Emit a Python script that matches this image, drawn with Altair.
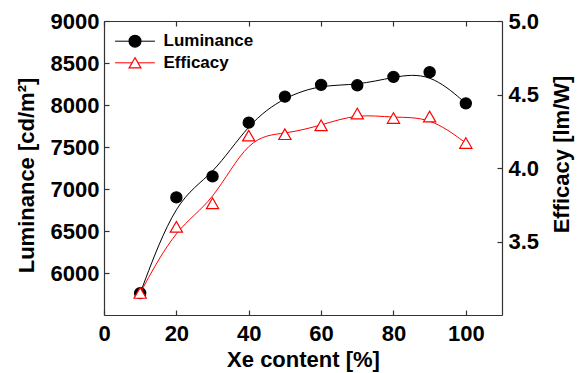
import altair as alt
import pandas as pd

# ---- data ----
xe = [10, 20, 30, 40, 50, 60, 70, 80, 90, 100]
luminance = [5760, 6900, 7150, 7790, 8100, 8240, 8235, 8335, 8390, 8020]
efficacy = [3.15, 3.60, 3.76, 4.22, 4.23, 4.29, 4.37, 4.34, 4.35, 4.17]

series_names = ["Luminance", "Efficacy"]
series_colors = ["#000000", "#ff0000"]
series_shapes = ["circle", "triangle-up"]
series_fills = ["#000000", "#ffffff"]

x_ticks = [0, 20, 40, 60, 80, 100]
lum_ticks = [6000, 6500, 7000, 7500, 8000, 8500, 9000]
eff_ticks = [3.5, 4.0, 4.5, 5.0]

df_lum = pd.DataFrame({"xe": xe, "value": luminance, "series": "Luminance", "curve": "Luminance"})
df_eff = pd.DataFrame({"xe": xe, "value": efficacy, "series": "Efficacy", "curve": "Efficacy"})

FONT = "Liberation Sans"
AX = "#333333"
FS = 22

x_scale = alt.Scale(domain=[0, 110], nice=False, zero=False)
lum_scale = alt.Scale(domain=[5500, 9000], nice=False, zero=False)
eff_scale = alt.Scale(domain=[3.0, 5.0], nice=False, zero=False)


def label_axis(orient, values, fmt, pad, **kw):
    return alt.Axis(orient=orient, values=values, format=fmt, ticks=False, tickSize=0,
                    domain=True, domainColor=AX, domainWidth=1.2, labels=True,
                    labelFont=FONT, labelFontSize=FS, labelFontWeight="bold",
                    labelColor="black", labelPadding=pad, grid=False,
                    titleFont=FONT, titleFontSize=FS, titleFontWeight="bold",
                    titleColor="black", **kw)


def tick_axis(orient, values):
    return alt.Axis(orient=orient, values=values, ticks=True, tickSize=5, tickColor=AX,
                    tickWidth=1.2, domain=False, labels=False, grid=False, offset=-5,
                    title=None)


LEG = dict(title=None, orient="none", legendX=22.5, legendY=11.7, symbolSize=140,
           labelFont=FONT, labelFontSize=17, labelFontWeight="bold", labelColor="black",
           labelOffset=20, rowPadding=3.6)

# line part of the legend: a horizontal segment centred on the marker
line_legend = alt.Legend(symbolType="M-3.37,0H3.37", symbolStrokeWidth=1,
                         labelExpr="''", zindex=1, **LEG)
point_legend = alt.Legend(symbolStrokeWidth=1.2, zindex=2, **LEG)

stroke_enc = alt.Stroke("curve:N", sort="descending",
                        scale=alt.Scale(range=series_colors), legend=line_legend)
color_enc = alt.Color("series:N", scale=alt.Scale(domain=series_names, range=series_colors),
                      legend=point_legend)
shape_enc = alt.Shape("series:N", scale=alt.Scale(domain=series_names, range=series_shapes),
                      legend=point_legend)
fill_enc = alt.Fill("series:N", scale=alt.Scale(domain=series_names, range=series_fills),
                    legend=point_legend)

lum_line = alt.Chart(df_lum).mark_line(interpolate="basis", strokeWidth=1).encode(
    x=alt.X("xe:Q", scale=x_scale,
            axis=label_axis("bottom", x_ticks, "d", 8, title="Xe content [%]",
                            titleY=51, titleBaseline="alphabetic", labelFlush=False)),
    y=alt.Y("value:Q", scale=lum_scale,
            axis=label_axis("left", lum_ticks, "d", 5, title="Luminance [cd/m²]",
                            titleX=-71, titleY=154, titleBaseline="alphabetic",
                            titleAngle=270)),
    stroke=stroke_enc,
)

lum_pts = alt.Chart(df_lum).mark_point(size=125, strokeWidth=1.2, opacity=1, filled=False).encode(
    x=alt.X("xe:Q", scale=x_scale, axis=tick_axis("bottom", x_ticks)),
    y=alt.Y("value:Q", scale=lum_scale, axis=tick_axis("left", lum_ticks)),
    color=color_enc, shape=shape_enc, fill=fill_enc,
)

eff_line = alt.Chart(df_eff).mark_line(interpolate="basis", strokeWidth=1).encode(
    x=alt.X("xe:Q", scale=x_scale, axis=tick_axis("top", x_ticks)),
    y=alt.Y("value:Q", scale=eff_scale,
            axis=label_axis("right", eff_ticks, ".1f", 6, title="Efficacy [lm/W]",
                            titleX=66, titleY=133, titleBaseline="alphabetic",
                            titleAngle=270)),
    stroke=stroke_enc,
)

eff_pts = alt.Chart(df_eff).mark_point(size=150, strokeWidth=1.2, opacity=1, filled=False).encode(
    x=alt.X("xe:Q", scale=x_scale,
            axis=alt.Axis(orient="top", values=x_ticks, ticks=False, labels=False,
                          domain=True, domainColor=AX, domainWidth=1.2, grid=False,
                          title=None)),
    y=alt.Y("value:Q", scale=eff_scale, axis=tick_axis("right", eff_ticks)),
    color=color_enc, shape=shape_enc, fill=fill_enc,
)

chart = (
    alt.layer(lum_line, lum_pts, eff_line, eff_pts)
    .resolve_scale(y="independent")
    .resolve_axis(x="independent", y="independent")
    .properties(width=398, height=294,
                padding={"left": 104, "top": 21, "right": 82, "bottom": 58},
                autosize=alt.AutoSizeParams(type="none"),
                background="white")
    .configure_view(stroke=None)
    .configure(font=FONT)
)

chart.save("out.html", embed_options={"renderer": "svg", "actions": False})
